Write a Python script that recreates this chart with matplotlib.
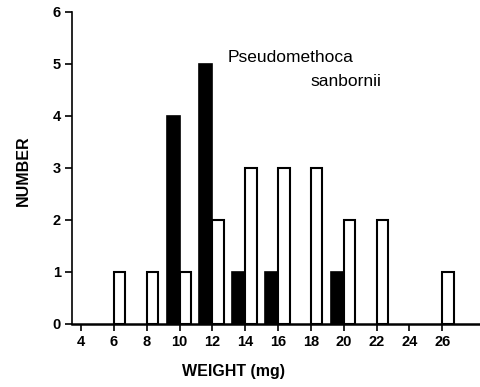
import matplotlib.pyplot as plt

# weight classes (mg) and counts
black_bins = [10, 12, 14, 16, 20]
black_counts = [4, 5, 1, 1, 1]
white_bins = [6, 8, 10, 12, 14, 16, 18, 20, 22, 26]
white_counts = [1, 1, 1, 2, 3, 3, 3, 2, 2, 1]
x_ticks = [4, 6, 8, 10, 12, 14, 16, 18, 20, 22, 24, 26]
y_ticks = [0, 1, 2, 3, 4, 5, 6]

plt.rcParams['font.family'] = ['Liberation Sans', 'DejaVu Sans']
plt.rcParams['font.weight'] = 'bold'

fig = plt.figure(figsize=(4.81, 3.87), dpi=100)
ax = fig.add_axes([0.150, 0.163, 0.848, 0.806])

ax.bar(black_bins, black_counts, width=-0.8, align='edge',
       color='black', edgecolor='black', linewidth=1.2)
ax.bar(white_bins, white_counts, width=0.7, align='edge',
       color='white', edgecolor='black', linewidth=1.5, zorder=3)

ax.set_xlim(3.45, 28.3)
ax.set_ylim(0, 6)
ax.set_xticks(x_ticks)
ax.set_yticks(y_ticks)
ax.spines['top'].set_visible(False)
ax.spines['right'].set_visible(False)
ax.spines['left'].set_linewidth(1.2)
ax.spines['bottom'].set_linewidth(1.8)
ax.tick_params(direction='out', length=5, width=1.2, labelsize=10.5, pad=3)

ax.set_xlabel('WEIGHT (mg)', fontsize=11.5, fontweight='bold')
ax.set_ylabel('NUMBER', fontsize=11.5, fontweight='bold')
ax.xaxis.set_label_coords(0.395, -0.13)
ax.yaxis.set_label_coords(-0.10, 0.49)

ax.text(12.9, 5.13, 'Pseudomethoca', fontsize=12.5, fontweight='normal',
        ha='left', va='center')
ax.text(18.0, 4.67, 'sanbornii', fontsize=12.5, fontweight='normal',
        ha='left', va='center')

fig.savefig('out.png', dpi=100)
